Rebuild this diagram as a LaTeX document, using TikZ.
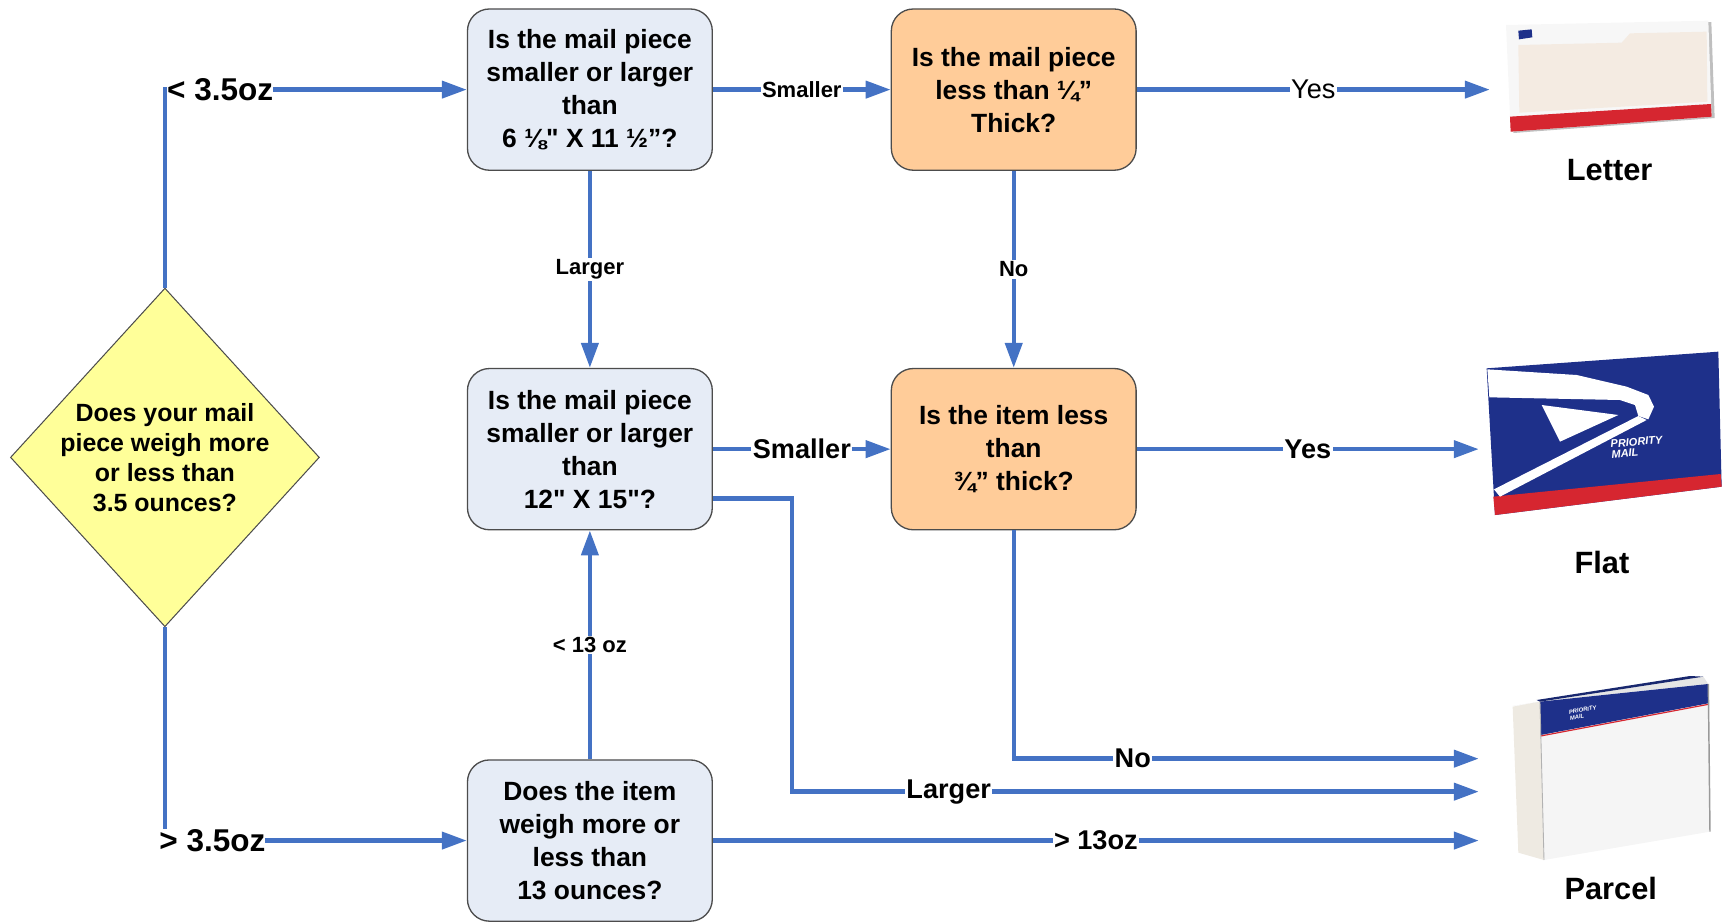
\documentclass[tikz,border=0pt]{standalone}
\usepackage{fontspec}
\newfontfamily\arialfont{Liberation Sans}
\usepackage{tikz}
\usetikzlibrary{arrows.meta,shapes.geometric}

\definecolor{flowblue}{RGB}{68,114,196}
\definecolor{boxblue}{RGB}{230,236,246}
\definecolor{boxorange}{RGB}{255,204,153}
\definecolor{boxyellow}{RGB}{255,255,153}
\definecolor{uspsblue}{RGB}{30,48,138}
\definecolor{uspsred}{RGB}{214,38,48}
\definecolor{windowbeige}{RGB}{244,235,226}
\definecolor{cardboard}{RGB}{238,234,226}

\tikzset{
  qbox/.style={draw=black!70, line width=0.9pt, rounded corners=15pt, fill=boxblue,
    minimum width=167pt, minimum height=110pt, inner sep=0pt, align=center,
    font=\arialfont\bfseries\fontsize{18}{22.5}\selectfont},
  tbox/.style={qbox, fill=boxorange},
  decision/.style={diamond, draw=black!70, line width=0.7pt, fill=boxyellow, aspect=0.91,
    inner sep=0pt, minimum width=210.75pt, minimum height=231pt, align=center,
    font=\arialfont\bfseries\fontsize{17}{20.5}\selectfont},
  flow/.style={draw=flowblue, line width=3pt},
  arr/.style={flow, -{Triangle[length=17pt,width=11.5pt]}},
  lbs/.style={fill=white, inner sep=1pt, font=\arialfont\bfseries\fontsize{15}{18}\selectfont},
  lbm/.style={fill=white, inner sep=1pt, font=\arialfont\bfseries\fontsize{18.5}{22}\selectfont},
  lbl/.style={fill=white, inner sep=0pt, font=\arialfont\bfseries\fontsize{21.5}{25}\selectfont},
  lyes/.style={fill=white, inner sep=1pt, font=\arialfont\fontsize{18.5}{22}\selectfont},
  kind/.style={font=\arialfont\bfseries\fontsize{21}{25}\selectfont},
}

\begin{document}
\begin{tikzpicture}[x=0.75pt,y=0.75pt,yscale=-1,xscale=1]
\useasboundingbox (0,0) rectangle (1568,837.7);

%Shape: Diamond
\node[decision] (weigh) at (150,416) {Does your mail\\piece weigh more\\or less than\\3.5 ounces?};

%Shape: Rounded Rect
\node[qbox] (size1) at (536.5,81.5) {Is the mail piece\\smaller or larger\\than\\6 ⅛" X 11 ½”?};
%Shape: Rounded Rect
\node[tbox] (thick1) at (922,81.5) {Is the mail piece\\less than ¼”\\Thick?};
%Shape: Rounded Rect
\node[qbox] (size2) at (536.5,408.5) {Is the mail piece\\smaller or larger\\than\\12" X 15"?};
%Shape: Rounded Rect
\node[tbox] (thick2) at (922,408.5) {Is the item less\\than\\¾” thick?};
%Shape: Rounded Rect
\node[qbox] (weigh13) at (536.5,764.5) {Does the item\\weigh more or\\less than\\13 ounces?};

% arrow ends at the pictures
\coordinate (to letter) at (1355,81.5);
\coordinate (to flat) at (1345,408.5);
\coordinate (to parcel no) at (1345,690);
\coordinate (to parcel big) at (1345,720);
\coordinate (to parcel heavy) at (1345,764.5);
\path (size2.east) ++(0,45) coordinate (big out);

%Straight Lines [id:arrows]
\draw[arr] (weigh.north) |- node[lbl, anchor=west]{< 3.5oz} (size1.west);
\draw[arr] (weigh.south) |- node[lbl, anchor=west, xshift=-5.25pt]{> 3.5oz} (weigh13.west);
\draw[arr] (size1.east) -- node[lbs]{Smaller} (thick1.west);
\draw[arr] (size1.south) -- node[lbs]{Larger} (size2.north);
\draw[arr] (thick1.east) -- node[lyes]{Yes} (to letter);
\draw[arr] (thick1.south) -- node[lbs]{No} (thick2.north);
\draw[arr] (size2.east) -- node[lbm]{Smaller} (thick2.west);
\draw[arr] (thick2.east) -- node[lbm]{Yes} (to flat);
\draw[arr] (thick2.south) |- node[lbm, pos=0.628]{No} (to parcel no);
\draw[arr] (big out) -- ++(72,0) |- node[lbm, pos=0.614]{Larger} (to parcel big);
\draw[arr] (weigh13.east) -- node[lbm]{> 13oz} (to parcel heavy);
\draw[arr] (weigh13.north) -- node[lbs]{< 13 oz} (size2.south);

%Shape: Letter envelope
\begin{scope}[shift={(1355.16,0)}, scale=0.30318]
\fill[black!25] (56,80) -- (664,66) -- (674,354) -- (70,399) -- cycle;
\fill[white!97!black] (48,75) -- (655,62) -- (665,350) -- (62,395) -- cycle;
\fill[windowbeige] (85,135) -- (395,128) -- (420,100) -- (650,95) -- (652,305) -- (88,338) -- cycle;
\fill[uspsred] (60,350) -- (663,312) -- (665,350) -- (62,395) -- cycle;
\fill[uspsblue] (85,92) -- (125,88) -- (127,112) -- (87,118) -- cycle;
\end{scope}

%Shape: Flat envelope
\begin{scope}[shift={(1336.97,309.23)}, scale=0.30318]
\fill[uspsblue] (50,85) -- (745,35) -- (755,440) -- (75,525) -- cycle;
\fill[uspsred] (70,470) -- (752,402) -- (755,440) -- (75,525) -- cycle;
\fill[white] (52,88) -- (320,105) -- (470,140) -- (535,165) -- (552,200) -- (535,238) -- (505,228) -- (495,195) -- (450,180) -- (58,172) -- cycle;
\fill[white] (530,240) -- (90,470) -- (72,448) -- (505,228) -- cycle;
\fill[white] (215,195) -- (445,225) -- (270,305) -- cycle;
\node[text=white, font=\arialfont\bfseries\itshape\fontsize{7.5}{7}\selectfont, align=left, rotate=5, anchor=north west, inner sep=0pt] (flat mark) at (420,300) {PRIORITY\\MAIL};
\end{scope}

%Shape: Parcel box
\begin{scope}[shift={(1355.16,600.27)}, scale=0.30318]
\fill[cardboard] (68,140) -- (150,125) -- (162,600) -- (85,578) -- cycle;
\fill[black!10] (68,138) -- (640,50) -- (655,72) -- (150,125) -- cycle;
\fill[white!96!black] (150,125) -- (655,72) -- (660,515) -- (162,600) -- cycle;
\fill[uspsblue] (150,125) -- (655,72) -- (655,130) -- (152,225) -- cycle;
\draw[uspsred, line width=0.8pt] (152,228) -- (655,133);
\fill[uspsblue!80!black] (140,120) -- (600,48) -- (640,50) -- (150,125) -- cycle;
\draw[black!40, line width=1pt] (655,72) -- (660,515);
\draw[black!30, line width=0.6pt] (150,125) -- (162,600);
\node[text=white, font=\arialfont\bfseries\itshape\fontsize{4}{4}\selectfont, align=left, rotate=10, anchor=north west, inner sep=0pt] (box mark) at (235,150) {PRIORITY\\MAIL};
\end{scope}

% Text Node
\node[kind] (letter) at (1464,155) {Letter};
% Text Node
\node[kind] (flat) at (1457,512) {Flat};
% Text Node
\node[kind] (parcel) at (1465,808) {Parcel};

\end{tikzpicture}
\end{document}
